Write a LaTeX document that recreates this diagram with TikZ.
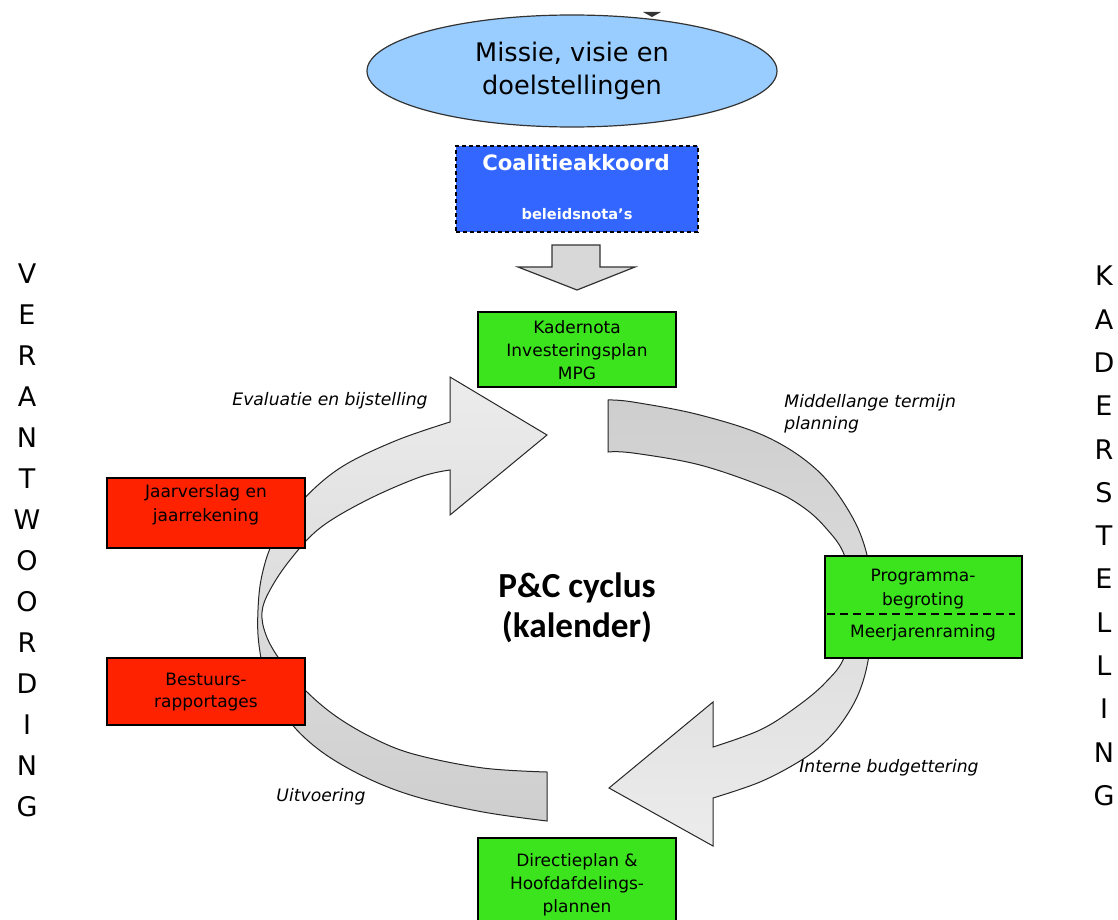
\documentclass[tikz,border=0pt]{standalone}
\usepackage{fontspec}
\setmainfont{DejaVu Sans}
\newfontfamily\calfont{Carlito}
\usetikzlibrary{shapes.geometric}
\definecolor{boxgreen}{RGB}{60,228,30}
\definecolor{boxred}{RGB}{255,34,0}
\definecolor{coalblue}{RGB}{51,102,255}
\definecolor{ellblue}{RGB}{153,204,255}
\definecolor{banddark}{RGB}{206,206,206}
\definecolor{bandlight}{RGB}{236,236,236}
\definecolor{arrowgray}{RGB}{216,216,216}
\begin{document}
\begin{tikzpicture}[x=0.5pt,y=-0.5pt,
  greenbox/.style={draw=black, line width=0.8pt, fill=boxgreen, minimum width=99pt, inner sep=0pt},
  redbox/.style={draw=black, line width=0.8pt, fill=boxred, minimum width=99pt, inner sep=0pt},
  boxtext/.style={align=center, inner sep=0pt, font=\fontsize{8.5}{11.5}\selectfont},
  cyclelabel/.style={inner sep=0pt, font=\itshape\fontsize{8.6}{11}\selectfont},
  vletter/.style={inner sep=0pt, font=\fontsize{13.5}{14}\selectfont},
  band/.style={draw=black!85, line width=0.5pt},
  blockarrow/.style={draw=black!80, line width=0.6pt, fill=arrowgray}
]
\useasboundingbox (0,0) rectangle (1118,920);
\clip (0,0) rectangle (1118,920);

% cycle arrows
\path[band, top color=banddark, bottom color=bandlight]
  plot[smooth, tension=0.6] coordinates {(608,400) (633,402) (700,415) (767,437) (817,470) (850,513) (867,555) (873,606) (869,655) (860,690) (845,718) (825,742) (800,761) (760,782) (713,798)}
  -- (713,846) -- (609,788) -- (713,702) -- (713,747)
  -- plot[smooth, tension=0.6] coordinates {(713,747) (760,730) (795,708) (825,683) (845,655) (851,606) (845,557) (825,527) (800,505) (767,488) (700,465) (633,453) (608,452)}
  -- cycle;
\path[band, top color=bandlight, bottom color=banddark]
  plot[smooth, tension=0.6] coordinates {(547,821) (483,812) (417,797) (367,778) (322,752) (290,722) (268,685) (259,645) (258,610) (262,575) (274,540) (300,503) (340,468) (395,441) (450,422)}
  -- (450,377) -- (547,435) -- (450,515) -- (450,470)
  -- plot[smooth, tension=0.6] coordinates {(450,470) (420,477) (367,500) (320,528) (290,560) (270,590) (262,612) (266,635) (280,660) (305,690) (337,717) (377,740) (417,755) (483,768) (547,772)}
  -- cycle;

% top
\fill[black!80] (643,12) -- (661,12) -- (652,17) -- cycle;
\node[ellipse, draw=black!80, line width=0.6pt, fill=ellblue, minimum width=205pt, minimum height=56pt, inner sep=0pt, align=center, font=\fontsize{12.8}{16.5}\selectfont] (missie) at (572,71) {Missie, visie en\\doelstellingen};

\node[draw=black, line width=0.7pt, dash pattern=on 2pt off 1.5pt, fill=coalblue, minimum width=121pt, minimum height=43pt, inner sep=0pt] (coal) at (577,189) {};
\node[inner sep=0pt, text=white, font=\bfseries\fontsize{10.6}{12}\selectfont] (coalt) at (576,163) {Coalitieakkoord};
\node[inner sep=0pt, text=white, font=\bfseries\fontsize{7.3}{9}\selectfont] (beleid) at (577,214) {beleidsnota’s};

\draw[blockarrow] (552,245) -- (600,245) -- (600,267) -- (635,267) -- (577,290) -- (518,267) -- (552,267) -- cycle;

% green boxes
\node[greenbox, minimum height=37.5pt] (kader) at (577,349.5) {};
\node[boxtext] (kadert) at (577,350) {Kadernota\\Investeringsplan\\MPG};

\node[greenbox, minimum width=98.5pt, minimum height=51pt] (prog) at (923.5,607) {};
\draw[line width=0.75pt, dash pattern=on 4pt off 2.5pt] (827,614) -- (1015,614);
\node[boxtext, font=\fontsize{8.5}{12}\selectfont] (progt) at (923,589) {Programma-\\begroting};
\node[boxtext] (meerj) at (923,633) {Meerjarenraming};

\node[greenbox, minimum height=47pt] (direc) at (577,885) {};
\node[boxtext] (direct) at (577,885) {Directieplan \&\\Hoofdafdelings-\\plannen};

% red boxes
\node[redbox, minimum height=35pt] (jaar) at (206,513) {};
\node[boxtext, font=\fontsize{8.5}{12}\selectfont] (jaart) at (206,505) {Jaarverslag en\\jaarrekening};
\node[redbox, minimum height=33.5pt] (best) at (206,691.5) {};
\node[boxtext, font=\fontsize{8.5}{11}\selectfont] (bestt) at (206,692) {Bestuurs-\\rapportages};

% centre
\node[inner sep=0pt, align=center, font=\calfont\bfseries\fontsize{17.6}{20}\selectfont] (pc) at (577,608) {P\&C cyclus\\(kalender)};

% labels
\node[cyclelabel] (eval) at (330,401) {Evaluatie en bijstelling};
\node[cyclelabel, anchor=west, align=left] (mtp) at (784,414) {Middellange termijn\\planning};
\node[cyclelabel] (intb) at (889,768) {Interne budgettering};
\node[cyclelabel] (uitv) at (321,797) {Uitvoering};

% side words
\foreach \l [count=\i] in {V,E,R,A,N,T,W,O,O,R,D,I,N,G}
  \node[vletter] (vl\i) at (27,{274+41*(\i-1)}) {\l};
\foreach \l [count=\i] in {K,A,D,E,R,S,T,E,L,L,I,N,G}
  \node[vletter] (kl\i) at (1104,{276+43.3*(\i-1)}) {\l};
\end{tikzpicture}
\end{document}
